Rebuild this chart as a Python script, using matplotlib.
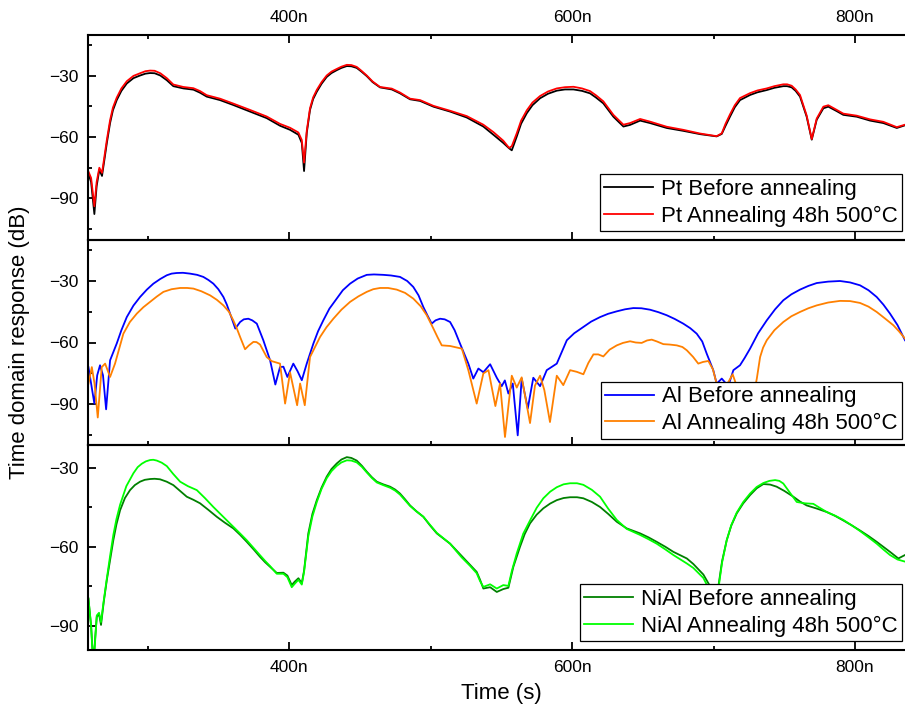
import matplotlib
matplotlib.use('Agg')
import matplotlib.pyplot as plt
from matplotlib.ticker import FixedLocator, FuncFormatter

plt.rcParams['font.family'] = ['Liberation Sans', 'DejaVu Sans']

# ---------------- data (time in ns, response in dB) ----------------
# Pt: (time, before annealing, after annealing)
pt_rows = [
    (258, -77.5, -76.5), (260.1, -82, -80), (262.4, -97.6, -93.8), (264, -84, -82),
    (265.9, -76, -75), (267.8, -79, -77.5), (269.3, -72, -70.5), (271.2, -63, -61.5),
    (273.5, -53.2, -51.8), (275.5, -47, -45.7), (278.2, -42, -40.8), (281.5, -37.5, -36.3),
    (285.3, -33.9, -32.8), (290, -31.3, -30.2), (294.7, -30, -28.9), (298.5, -29.1, -27.9),
    (301.8, -28.8, -27.6), (305, -28.9, -27.7), (309, -30, -28.9), (313.6, -32.3, -31.3),
    (318.2, -35.2, -34.4), (325.3, -36.3, -35.6), (332.4, -36.9, -36.2), (337.1, -38.4, -37.6),
    (341.8, -40.3, -39.6), (351.2, -42, -41.3), (360.6, -44.4, -43.7), (372.4, -47.6, -46.8),
    (384.2, -50.8, -50), (393.6, -54.5, -53.6), (400.7, -56.5, -55.5), (406.6, -58.9, -57.8),
    (409, -62.9, -61.5), (410.6, -76.6, -72.5), (412.5, -58, -57), (414.8, -46.8, -46),
    (417, -41.5, -40.7), (419.6, -37.9, -37), (423, -34, -33.2), (426.6, -30.7, -30),
    (430, -28.8, -28.1), (433.7, -27.4, -26.8), (437, -26.3, -25.7), (440.8, -25.4, -24.8),
    (444, -25.5, -24.9), (447.8, -26.3, -25.8), (451, -28, -27.6), (454.9, -30.3, -30),
    (459, -33.2, -32.9), (464.3, -35.8, -35.6), (472.6, -36.8, -36.4), (478.4, -38.7, -38.3),
    (485.5, -41.6, -41.3), (492.6, -42.4, -42), (502, -45.2, -44.8), (513.8, -47.6, -47.2),
    (525.6, -50.5, -49.8), (537.3, -54.9, -54), (544.4, -58.9, -57.6), (551.4, -62.9, -61.8),
    (555.5, -65.5, -65.3), (557.4, -66.5, -64.5), (560.9, -59.8, -58.2), (564, -53.5, -52),
    (568, -48.4, -47), (572, -44.5, -43.2), (577.4, -41.1, -40), (583, -38.9, -37.8),
    (589.2, -37.4, -36.3), (595, -36.8, -35.7), (601, -36.8, -35.5), (607, -37.5, -36.3),
    (612.7, -38.7, -37.6), (617, -40.8, -39.7), (622.1, -43.6, -42.6), (629.2, -50.1, -49.2),
    (636.3, -54.9, -54), (641, -54.1, -53.2), (648.1, -52, -51.2), (655.1, -53.2, -52.5),
    (666.9, -55.6, -55), (678.6, -57, -56.5), (690.4, -58.6, -58.3), (702.2, -59.7, -59.6),
    (705.8, -58.5, -58.2), (708.5, -54.5, -53.5), (711.6, -50.1, -49), (715, -45.5, -44.5),
    (718.7, -42, -41), (725.8, -39.5, -38.6), (731, -38.2, -37.3), (737.6, -37.1, -36.3),
    (743, -36, -35.2), (749.3, -35.2, -34.3), (752, -35.2, -34.3), (755.2, -35.8, -35),
    (758, -37.5, -36.8), (761.1, -40.3, -39.5), (765.8, -50.1, -49.5), (769.4, -61.3, -61),
    (772.9, -51.6, -51), (777.6, -46, -45.2), (781.1, -45.2, -44.5), (787.1, -47.4, -46.8),
    (791.7, -49.2, -48.6), (801.2, -50.1, -49.6), (810.6, -52, -51.4), (820, -53.2, -52.6),
    (829.5, -55.6, -55.2), (835.3, -54.3, -54),
]

# Al before annealing: (time, dB)
al_before_rows = [
    (258.2, -72), (260.1, -80), (262.4, -89.8), (264.4, -76), (266.4, -71.1), (268.5, -76),
    (270.7, -92.6), (273.5, -68.7), (278.2, -60.5), (281.5, -54), (285.3, -47.6), (290, -42),
    (294.7, -37.8), (299.5, -34.2), (304.1, -31.3), (309, -29), (313.6, -27.2), (317, -26.4),
    (320.6, -26.1), (325, -26), (330, -26.4), (335, -27), (339.4, -28), (343, -29.5),
    (346.5, -31.3), (350, -34), (353.6, -37.8), (356, -41.5), (358.3, -45.9), (362, -53.2),
    (365.4, -50), (368, -48.7), (371.2, -48.4), (374, -49.2), (377.2, -50.8), (381.8, -58.9),
    (386.6, -68.7), (390.3, -80.5), (393.6, -72), (396, -71.8), (398.8, -76.8), (403, -70.3),
    (406, -74), (409, -78.4), (412.5, -70.3), (417.2, -60.5), (420.5, -54.5), (424.2, -49.2),
    (428.5, -43.5), (433.7, -38.6), (438, -34.5), (443.1, -31.3), (448.5, -28.8), (454.9, -27),
    (460, -26.8), (466.6, -27), (472, -27.3), (478.4, -28), (483.5, -30), (487.8, -32.9),
    (491.5, -37), (494.9, -42.7), (497.8, -46.8), (500.8, -50.8), (503.5, -49.2), (506.7, -48.4),
    (510, -48.7), (513.8, -50), (517, -54), (520.8, -60.5), (526.7, -70.3), (530.2, -77.6),
    (533.8, -72.7), (537.3, -74.5), (542.1, -70.6), (546.8, -77.2), (550.3, -81.3), (552.5, -78.5),
    (555, -84.9), (558.1, -80), (561.6, -105.3), (564.4, -77.6), (568.7, -92.2), (572.6, -77.2),
    (577.4, -81.3), (582.1, -73.5), (589.2, -70.3), (592.5, -65), (596.3, -58.9), (601.5, -55.5),
    (608, -52.4), (613.5, -49.8), (619.8, -47.6), (625.5, -46), (631.6, -44.8), (637.5, -43.8),
    (643.3, -43.2), (649, -43.3), (655.1, -44), (661, -45.2), (666.9, -46.7), (672.5, -48.5),
    (678.6, -50.8), (683.5, -53), (688.1, -55.7), (692, -59.5), (695.2, -65.5), (699.8, -73.5),
    (702.2, -80.1), (705.8, -77.6), (710.4, -81.3), (714, -73.5), (718.7, -71.1), (722, -67.5),
    (725.8, -63), (731.5, -55.5), (737.6, -49.2), (743.5, -43.8), (749.3, -39.4), (755, -36.5),
    (761.1, -34.2), (767, -32.4), (772.9, -31), (781, -30.3), (789.4, -30), (796.5, -30.7),
    (803.5, -32.1), (809.5, -34.5), (815.3, -37.8), (820, -41.5), (824.7, -45.9), (830, -51.5),
    (835.3, -58.9),
]

# Al after annealing: (time, dB)
al_after_rows = [
    (258.2, -80.1), (260.6, -72), (262.5, -80), (264.8, -96.6), (267.6, -72), (270, -70.3),
    (273.5, -76.8), (277, -70.3), (282.9, -55.7), (287.5, -50), (292.4, -45.9), (297, -42.8),
    (301.8, -40.2), (306.5, -37.6), (311.2, -35.3), (317, -34), (323, -33.4), (328, -33.4),
    (332.4, -33.7), (338, -35), (344.2, -37), (349, -39.2), (353.6, -41.9), (357.5, -45),
    (360.6, -49.2), (363, -53), (365.4, -57.3), (368.9, -63.3), (371.5, -61.5), (374.8, -59.7),
    (377, -59.8), (379.5, -61), (384.2, -67.1), (387.8, -69.1), (393.6, -70.3), (397.2, -89.8),
    (400.7, -74.6), (405.7, -90.6), (407.8, -80), (411.1, -90.6), (414.8, -67.1), (421.9, -57.3),
    (426.5, -52.5), (431.3, -48.4), (437, -44), (443.1, -40.2), (449, -37.5), (454.9, -35.3),
    (459.5, -34), (464.3, -33.4), (470, -33.4), (476.1, -34.2), (482, -35.8), (487.8, -38.6),
    (493, -42.3), (497.3, -46.7), (502, -53.2), (505, -57.5), (507.9, -61.4), (513.8, -61.7),
    (522.1, -63), (526.7, -73.5), (532.6, -89.8), (537.3, -75.1), (540.9, -73.5), (545.8, -91),
    (549.1, -80), (552.6, -106.1), (557.4, -76.2), (560.9, -82), (564.4, -77), (570.3, -99.3),
    (573.8, -81), (577.4, -76.2), (580.4, -83.2), (584.4, -98.8), (589.2, -76.2), (593.8, -80.8),
    (598.6, -73.5), (603.3, -74.3), (608, -75.5), (611.5, -70), (615.1, -65.8), (618.5, -65.8),
    (622.1, -66.8), (626.5, -63.5), (631.6, -61.4), (636, -60.2), (641, -59.4), (645, -60),
    (649.2, -60.2), (653, -59), (656.3, -58.6), (660, -59.5), (664.5, -60.8), (669, -61),
    (674, -61.4), (678, -62.2), (681.1, -63.8), (685.5, -67), (689.2, -70.3), (692.5, -69.5),
    (696.3, -69), (699.5, -73), (702.2, -80.1), (706.9, -80.8), (710.4, -79.4), (713.5, -75.5),
    (716.4, -81.3), (722.2, -95), (727.2, -90), (730.6, -77.5), (732.9, -67.1), (735, -62.5),
    (737.6, -58.9), (743, -54), (749.3, -50), (755, -47.2), (761.1, -45.1), (767, -43.3),
    (772.9, -41.9), (781, -40.5), (789.4, -39.7), (796.5, -39.8), (803.5, -40.7), (809.5, -42.5),
    (815.3, -45.1), (821, -48.2), (827.1, -51.6), (831, -54.5), (835.3, -58.1),
]

# NiAl before annealing: (time, dB)
nial_before_rows = [
    (258.2, -79.6), (260.1, -90), (261.7, -105), (262.9, -95), (264.1, -86.5), (265.7, -85.5),
    (267.1, -89.6), (269, -81), (271.2, -72.6), (273.5, -65), (275.8, -57.5), (278, -51.5),
    (280.6, -46.1), (284, -41.5), (287.6, -38.5), (291, -36.6), (294.7, -35.3), (298, -34.6),
    (301.8, -34.3), (305, -34.2), (308.8, -34.4), (313.5, -35.3), (318.2, -36.6), (323, -38.8),
    (327.7, -41), (332.5, -42.2), (337.1, -43.5), (343, -46), (348.9, -48.6), (354.5, -50.8),
    (360.6, -53), (365.5, -55.5), (370.1, -58.1), (375, -61), (379.5, -63.8), (383, -65.8),
    (386.6, -67.6), (391.3, -69.9), (396, -69.8), (398.8, -70.9), (401.9, -74.5), (404, -73.2),
    (406.6, -71.9), (409, -73.8), (410.6, -69), (413.6, -54.9), (416.5, -47.5), (419.6, -42.3),
    (423, -37.5), (426.6, -33.4), (430, -30.5), (433.7, -28.4), (437, -26.9), (440.8, -26),
    (444, -26.3), (447.8, -27.3), (451.5, -29.3), (454.9, -31.5), (458.5, -33.6), (462, -35.3),
    (466.5, -36.3), (471.4, -37.2), (475, -38.3), (478.4, -39.8), (482, -42), (485.5, -44.3),
    (490, -46.5), (494.9, -48.6), (499.5, -51.8), (504.4, -54.9), (509, -56.8), (513.8, -58.8),
    (518, -61.2), (522, -63.5), (527.9, -66.9), (532.6, -69.5), (535, -72.5), (537.3, -75.8),
    (542.1, -75.3), (546.8, -77.1), (551.4, -76), (555, -75.5), (558.5, -67.6), (563.2, -60),
    (566.5, -55.2), (570.3, -51.1), (575, -47.8), (579.7, -45.4), (584.5, -43.6), (589.2, -42.3),
    (594, -41.5), (598.6, -41.2), (603.5, -41.2), (608, -41.6), (614, -43), (619.8, -44.9),
    (625.5, -47.5), (631.6, -50.5), (638.6, -53), (648.1, -54.9), (654, -56.4), (659.8, -58.1),
    (666, -60), (671.6, -61.9), (681.1, -64.4), (685.7, -66.5), (692.8, -70.5), (698.7, -76),
    (701.1, -82), (703.4, -75), (706, -65.5), (709.3, -57.5), (712.5, -52), (716.4, -47.3),
    (721, -43.5), (725.8, -40.4), (730.5, -37.8), (735.2, -36.2), (740, -36.4), (744.6, -37.2),
    (750, -38.8), (756.4, -41), (761, -42.8), (765.8, -44.3), (773, -45.5), (780, -46.8),
    (786, -48.3), (791.7, -50), (797.5, -51.8), (803.5, -53.8), (809.5, -55.9), (815.3, -58.1),
    (820, -60), (824.7, -61.9), (830.6, -64.4), (835.3, -63.1),
]

# NiAl after annealing: (time, dB)
nial_after_rows = [
    (258.2, -79.6), (260.1, -90), (261.7, -106), (262.9, -96), (264.1, -86), (265.7, -85),
    (267.1, -88.5), (269, -80.5), (271.2, -72), (273.5, -63.5), (275.8, -55.5), (278, -49.5),
    (280.6, -44), (285, -37), (290, -32.1), (293, -29.8), (295.9, -28.5), (298.8, -27.6),
    (301.8, -27.1), (304, -27), (306.5, -27.3), (310, -28.1), (313.6, -29.4), (318, -32.3),
    (323, -35.3), (328.5, -37), (334.8, -38.5), (340.5, -41.5), (346.5, -44.9), (353.5, -48.6),
    (360.6, -52.4), (365.5, -55), (370.1, -57.5), (375, -60.5), (379.5, -63.2), (383, -65.3),
    (386.6, -67.3), (391.3, -70.2), (396, -70.2), (398.8, -71.5), (401.9, -75.3), (404, -74),
    (406.6, -72.5), (409, -74.3), (410.6, -69.5), (413.6, -56), (416.5, -48.5), (419.6, -43),
    (423, -38), (426.6, -34), (430, -31.3), (433.7, -29.3), (437, -28), (440.8, -27.2),
    (444, -27.3), (447.8, -28), (451.5, -29.7), (454.9, -31.8), (458.5, -33.9), (462, -35.6),
    (466.5, -36.6), (471.4, -37.6), (475, -38.7), (478.4, -40.2), (482, -42.4), (485.5, -44.5),
    (490, -46.6), (494.9, -48.6), (499.5, -51.6), (504.4, -54.7), (509, -56.7), (513.8, -58.8),
    (518, -61.5), (522, -64), (527.9, -67.2), (532.6, -70), (535, -73), (537.3, -75.2),
    (542.1, -74.2), (546.8, -75.8), (551.4, -74.5), (555, -74.8), (557.5, -69), (560.9, -62.5),
    (565.5, -55), (570.3, -50), (575, -45.2), (579.7, -41.6), (584.5, -39.1), (589.2, -37.4),
    (594, -36.3), (598.6, -35.9), (603.5, -35.9), (608, -36.5), (614, -38.4), (619.8, -41),
    (625.5, -45.5), (631.6, -49.8), (638.6, -53.2), (648.1, -55.5), (654, -57.1), (659.8, -58.8),
    (666, -61), (671.6, -63.1), (681.1, -66.3), (685.7, -68), (692.8, -71.8), (698.7, -78),
    (701.1, -84), (703.4, -76), (706, -66), (709.3, -57.5), (712.5, -51.8), (716.4, -47),
    (721, -43), (725.8, -39.8), (730.5, -37.3), (735.2, -35.8), (739.5, -35), (743.5, -34.7),
    (746.5, -35), (749.3, -36), (754, -39.5), (758.8, -43), (764.5, -43.5), (770.5, -43.7),
    (775, -45.2), (780, -46.8), (786, -48.2), (791.7, -49.8), (797.5, -51.8), (803.5, -54),
    (809.5, -56.4), (815.3, -58.8), (820, -61), (824.7, -63.1), (830, -64.8), (835.3, -65.6),
]

labels_pt = ['Pt Before annealing', 'Pt Annealing 48h 500°C']
labels_al = ['Al Before annealing', 'Al Annealing 48h 500°C']
labels_nial = ['NiAl Before annealing', 'NiAl Annealing 48h 500°C']

x_major = [400, 600, 800]
x_minor = [300, 500, 700]
y_major = [-30, -60, -90]
y_minor = [-15, -45, -75, -105]

pt_time, pt_before, pt_after = zip(*pt_rows)
al_b_time, al_before = zip(*al_before_rows)
al_a_time, al_after = zip(*al_after_rows)
ni_b_time, nial_before = zip(*nial_before_rows)
ni_a_time, nial_after = zip(*nial_after_rows)

# ---------------- figure ----------------
W, H = 905, 716
fig = plt.figure(figsize=(W / 100, H / 100), dpi=100)

left = 88 / W
width = 1.0 - left
panels = [(34.5, 239.5), (240, 445), (445, 650)]
axes = []
for (t, b) in panels:
    ax = fig.add_axes([left, 1 - b / H, width, (b - t) / H],
                      sharex=axes[0] if axes else None)
    axes.append(ax)
ax1, ax2, ax3 = axes

lw = 1.3
ax1.plot(pt_time, pt_before, color='black', lw=lw, label=labels_pt[0])
ax1.plot(pt_time, pt_after, color='#ff0000', lw=lw, label=labels_pt[1])
ax2.plot(al_b_time, al_before, color='#0000ff', lw=lw, label=labels_al[0])
ax2.plot(al_a_time, al_after, color='#ff8000', lw=lw, label=labels_al[1])
ax3.plot(ni_b_time, nial_before, color='#008000', lw=lw, label=labels_nial[0])
ax3.plot(ni_a_time, nial_after, color='#00ff00', lw=lw, label=labels_nial[1])

ax1.set_xlim(257.9, 835.3)
ax1.set_ylim(-110, -10)
ax2.set_ylim(-110, -10)
ax3.set_ylim(-99.1, -21.4)

fmt = FuncFormatter(lambda v, p: f'{int(round(v))}n')
for ax in axes:
    ax.xaxis.set_major_locator(FixedLocator(x_major))
    ax.xaxis.set_minor_locator(FixedLocator(x_minor))
    ax.xaxis.set_major_formatter(fmt)
    ax.yaxis.set_major_locator(FixedLocator(y_major))
    ax.yaxis.set_minor_locator(FixedLocator(y_minor))
    ax.tick_params(which='both', direction='in', width=1.3, right=False,
                   labelsize=12.5, pad=7)
    ax.tick_params(which='major', length=5.5)
    ax.tick_params(which='minor', length=2.8)
    ax.spines['right'].set_visible(False)
    for s in ('left', 'top', 'bottom'):
        ax.spines[s].set_linewidth(1.5)
    ax.set_facecolor('none')

ax1.tick_params(which='both', top=True, labeltop=True, labelbottom=False)
ax2.tick_params(which='both', top=False, labelbottom=False)
ax3.tick_params(which='both', top=False, labelbottom=True)

leg_gaps = [8.5, 6.5, 9]
for ax, gap, (t, b) in zip(axes, leg_gaps, panels):
    hpx = b - t
    leg = ax.legend(loc='lower right', bbox_to_anchor=(1 - 3 / (W - 88), gap / hpx),
                    borderaxespad=0, fontsize=16, frameon=True, fancybox=False,
                    framealpha=1, edgecolor='black', borderpad=0.2,
                    handlelength=2.2, handletextpad=0.35, labelspacing=0.25)
    leg.get_frame().set_linewidth(0.9)
    leg.set_zorder(5)

fig.text(20 / W, 1 - 342 / H, 'Time domain response (dB)', rotation=90,
         ha='center', va='center', fontsize=16)
fig.text(501 / W, 1 - 693 / H, 'Time (s)', ha='center', va='center', fontsize=16)

fig.savefig('out.png', dpi=100)
